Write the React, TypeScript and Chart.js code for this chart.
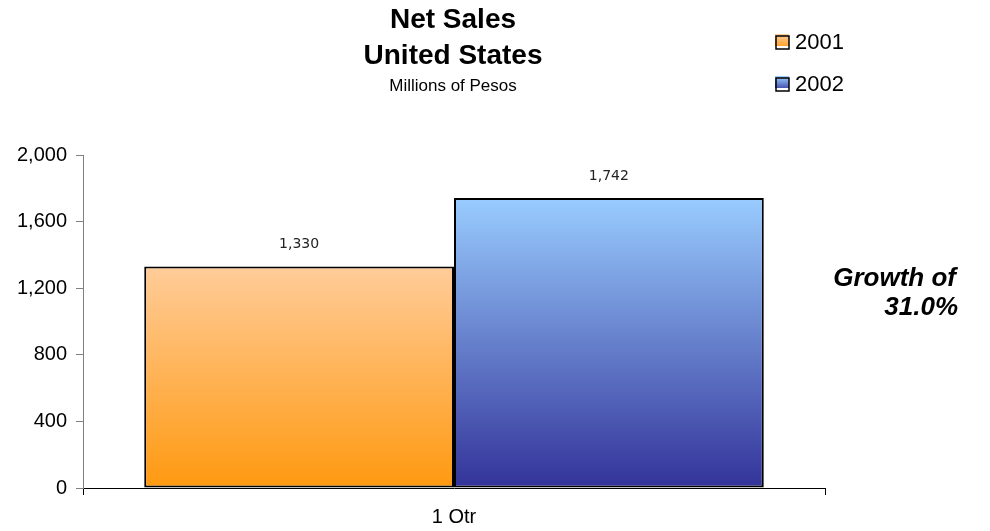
import React, { useEffect, useRef } from "react";
import { Chart, registerables } from "chart.js";

Chart.register(...registerables);

const categories = ["1 Qtr"];
const seriesNames = ["2001", "2002"];
const sales2001 = [1330];
const sales2002 = [1742];
const yTicks = [0, 400, 800, 1200, 1600, 2000];
const titleLines = ["Net Sales", "United States"];
const subtitle = "Millions of Pesos";
const growthLines = ["Growth of", "31.0%"];

const gradColors = [
  ["#FFCC99", "#FF9910"],
  ["#99CCFF", "#333399"],
];

const FONT = "'Liberation Sans', Arial, sans-serif";

const fmt = (v: number) => v.toLocaleString("en-US");

function barGradient(idx: number) {
  return (context: any) => {
    const chart = context.chart;
    const { ctx, chartArea, scales } = chart;
    if (!chartArea) return gradColors[idx][1];
    const v = context.dataset.data[context.dataIndex] ?? 0;
    const yTop = scales.y.getPixelForValue(v);
    const yBot = scales.y.getPixelForValue(0);
    const g = ctx.createLinearGradient(0, yTop, 0, yBot);
    g.addColorStop(0, gradColors[idx][0]);
    g.addColorStop(1, gradColors[idx][1]);
    return g;
  };
}

const decorPlugin = {
  id: "decor",
  afterDraw(chart: any) {
    const { ctx, chartArea } = chart;
    ctx.save();
    // titles
    const cx = (chartArea.left + chartArea.right) / 2 - 1;
    ctx.fillStyle = "#000";
    ctx.textAlign = "center";
    ctx.textBaseline = "middle";
    ctx.font = `bold 28px ${FONT}`;
    ctx.fillText(titleLines[0], cx, 20);
    ctx.fillText(titleLines[1], cx, 56);
    ctx.font = `17px ${FONT}`;
    ctx.fillText(subtitle, cx, 86);

    // legend
    const legendY = [42, 84];
    seriesNames.forEach((name, i) => {
      const bx = 776;
      const by = legendY[i] - 7;
      const g = ctx.createLinearGradient(0, by, 0, by + 14);
      g.addColorStop(0, gradColors[i][0]);
      g.addColorStop(1, gradColors[i][1]);
      ctx.fillStyle = g;
      ctx.fillRect(bx - 1, by - 1, 14, 12);
      ctx.strokeStyle = "#000";
      ctx.lineWidth = 1.5;
      ctx.strokeRect(bx, by + 1, 13, 13);
      ctx.fillStyle = "#000";
      ctx.textAlign = "left";
      ctx.font = `22px ${FONT}`;
      ctx.fillText(name, bx + 19, legendY[i] + 1);
    });

    // growth
    ctx.textAlign = "right";
    ctx.font = `italic bold 26px ${FONT}`;
    ctx.fillText(growthLines[0], 956, 279);
    ctx.fillText(growthLines[1], 958, 308);

    // data labels
    ctx.textAlign = "center";
    ctx.font = `14px 'DejaVu Sans', sans-serif`;
    ctx.fillStyle = "#222";
    chart.data.datasets.forEach((ds: any, di: number) => {
      const meta = chart.getDatasetMeta(di);
      meta.data.forEach((el: any, i: number) => {
        ctx.fillText(fmt(ds.data[i]), el.x, el.y - 22);
      });
    });
    ctx.restore();
  },
};

export default function App() {
  const ref = useRef<HTMLCanvasElement>(null);
  useEffect(() => {
    if (!ref.current) return;
    const chart = new Chart(ref.current, {
      type: "bar",
      data: {
        labels: categories,
        datasets: [
          {
            label: seriesNames[0],
            data: sales2001,
            backgroundColor: barGradient(0),
            borderColor: "#000",
            borderWidth: 2,
            borderSkipped: false,
          },
          {
            label: seriesNames[1],
            data: sales2002,
            backgroundColor: barGradient(1),
            borderColor: "#000",
            borderWidth: 2,
            borderSkipped: false,
          },
        ],
      },
      options: {
        animation: false,
        responsive: false,
        devicePixelRatio: 1,
        layout: { padding: { top: 155, right: 165, left: 0, bottom: 0 } },
        plugins: {
          legend: { display: false },
          title: { display: false },
          tooltip: { enabled: false },
        },
        datasets: {
          bar: { categoryPercentage: 0.835, barPercentage: 1 },
        },
        scales: {
          x: {
            offset: true,
            grid: {
              offset: true,
              drawOnChartArea: false,
              drawTicks: true,
              tickLength: 7,
              color: "#000",
            },
            border: { color: "#000", width: 1 },
            ticks: {
              color: "#000",
              font: { family: FONT, size: 20 },
              padding: 10,
            },
            afterFit: (s: any) => {
              s.height = 43;
            },
          },
          y: {
            min: 0,
            max: 2000,
            afterBuildTicks: (s: any) => {
              s.ticks = yTicks.map((v) => ({ value: v }));
            },
            grid: {
              drawOnChartArea: false,
              drawTicks: true,
              tickLength: 7,
              color: "#808080",
            },
            border: { color: "#808080", width: 1 },
            ticks: {
              color: "#000",
              font: { family: FONT, size: 20 },
              padding: 9,
              callback: (v: any) => fmt(Number(v)),
            },
            afterFit: (s: any) => {
              s.width = 83;
            },
          },
        },
      },
      plugins: [decorPlugin],
    });
    return () => chart.destroy();
  }, []);
  return (
    <canvas
      ref={ref}
      width={990}
      height={531}
      style={{ display: "block", margin: -8 }}
    />
  );
}
